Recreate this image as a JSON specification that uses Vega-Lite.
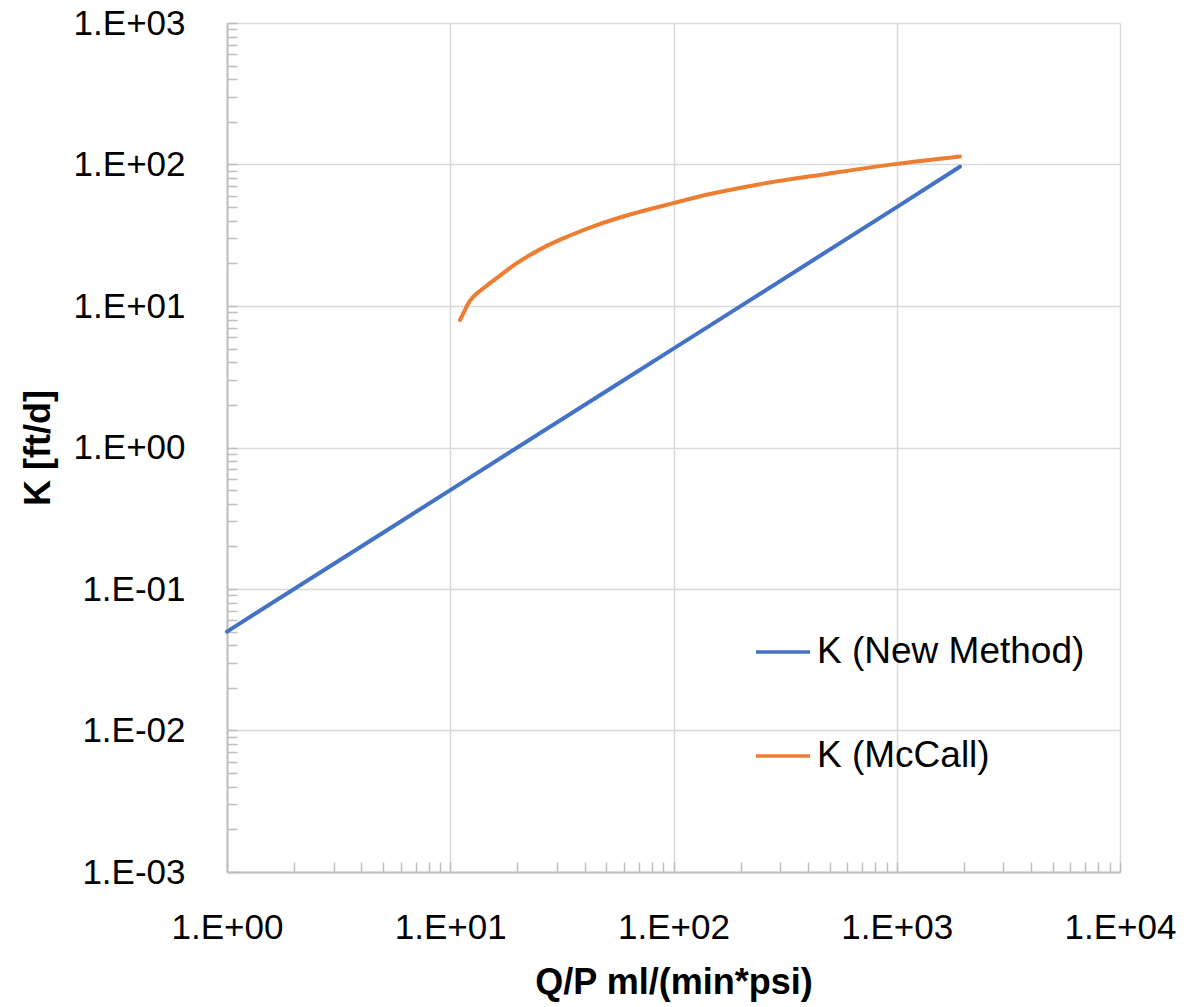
{
  "$schema": "https://vega.github.io/schema/vega-lite/v6.json",
  "autosize": {"type": "none"},
  "width": 893,
  "height": 849,
  "padding": {"left": 227, "top": 23, "right": 79, "bottom": 135},
  "background": "white",
  "config": {
    "view": {"stroke": null},
    "font": "Liberation Sans"
  },
  "data": {
    "values": [
      {"x": 1, "k": 0.05, "series": "K (New Method)"},
      {"x": 10, "k": 0.5, "series": "K (New Method)"},
      {"x": 100, "k": 5, "series": "K (New Method)"},
      {"x": 1000, "k": 50, "series": "K (New Method)"},
      {"x": 1920, "k": 96.5, "series": "K (New Method)"},
      {"x": 11.06, "k": 7.96, "series": "K (McCall)"},
      {"x": 11.44, "k": 8.88, "series": "K (McCall)"},
      {"x": 12.26, "k": 10.9, "series": "K (McCall)"},
      {"x": 13.6, "k": 12.8, "series": "K (McCall)"},
      {"x": 15.07, "k": 14.5, "series": "K (McCall)"},
      {"x": 16.7, "k": 16.4, "series": "K (McCall)"},
      {"x": 19.16, "k": 19.3, "series": "K (McCall)"},
      {"x": 22.76, "k": 22.9, "series": "K (McCall)"},
      {"x": 27.04, "k": 26.6, "series": "K (McCall)"},
      {"x": 34.4, "k": 31.5, "series": "K (McCall)"},
      {"x": 45.3, "k": 37.3, "series": "K (McCall)"},
      {"x": 63.9, "k": 44.3, "series": "K (McCall)"},
      {"x": 99.8, "k": 53.3, "series": "K (McCall)"},
      {"x": 145.7, "k": 61.8, "series": "K (McCall)"},
      {"x": 244, "k": 72.6, "series": "K (McCall)"},
      {"x": 485.7, "k": 85.8, "series": "K (McCall)"},
      {"x": 1000, "k": 101, "series": "K (McCall)"},
      {"x": 1920, "k": 114, "series": "K (McCall)"}
    ]
  },
  "mark": {"type": "line", "strokeWidth": 4, "strokeCap": "round", "interpolate": "monotone"},
  "encoding": {
    "x": {
      "field": "x",
      "type": "quantitative",
      "scale": {"type": "log", "domain": [1, 10000], "nice": false},
      "axis": {
        "title": "Q/P ml/(min*psi)",
        "titleFontSize": 36,
        "titleFontWeight": "bold",
        "titleColor": "black",
        "titlePadding": 20,
        "values": [1,2,3,4,5,6,7,8,9,10,20,30,40,50,60,70,80,90,100,200,300,400,500,600,700,800,900,1000,2000,3000,4000,5000,6000,7000,8000,9000,10000],
        "labelExpr": "abs(log(datum.value)/LN10 - round(log(datum.value)/LN10)) < 1e-6 ? '1.E' + (round(log(datum.value)/LN10) < 0 ? '-' : '+') + '0' + abs(round(log(datum.value)/LN10)) : ''",
        "labelFontSize": 35,
        "labelColor": "black",
        "labelPadding": 48,
        "labelOverlap": false,
        "labelFlush": false,
        "labelBound": false,
        "tickSize": -10,
        "tickColor": "#bfbfbf",
        "tickWidth": 1.5,
        "domainColor": "#bfbfbf",
        "domainWidth": 2,
        "grid": true,
        "gridColor": "#d9d9d9",
        "gridWidth": 1.5,
        "gridOpacity": {"condition": {"test": "abs(log(datum.value)/LN10 - round(log(datum.value)/LN10)) < 1e-6", "value": 1}, "value": 0}
      }
    },
    "y": {
      "field": "k",
      "type": "quantitative",
      "scale": {"type": "log", "domain": [0.001, 1000], "nice": false},
      "axis": {
        "title": "K [ft/d]",
        "titleFontSize": 36,
        "titleFontWeight": "bold",
        "titleColor": "black",
        "titlePadding": 16,
        "values": [0.001,0.002,0.003,0.004,0.005,0.006,0.007,0.008,0.009,0.01,0.02,0.03,0.04,0.05,0.06,0.07,0.08,0.09,0.1,0.2,0.3,0.4,0.5,0.6,0.7,0.8,0.9,1,2,3,4,5,6,7,8,9,10,20,30,40,50,60,70,80,90,100,200,300,400,500,600,700,800,900,1000],
        "labelExpr": "abs(log(datum.value)/LN10 - round(log(datum.value)/LN10)) < 1e-6 ? '1.E' + (round(log(datum.value)/LN10) < 0 ? '-' : '+') + '0' + abs(round(log(datum.value)/LN10)) : ''",
        "labelFontSize": 35,
        "labelColor": "black",
        "labelPadding": 52,
        "labelOverlap": false,
        "labelFlush": false,
        "labelBound": false,
        "tickSize": -10,
        "tickColor": "#bfbfbf",
        "tickWidth": 1.5,
        "domainColor": "#bfbfbf",
        "domainWidth": 2,
        "grid": true,
        "gridColor": "#d9d9d9",
        "gridWidth": 1.5,
        "gridOpacity": {"condition": {"test": "abs(log(datum.value)/LN10 - round(log(datum.value)/LN10)) < 1e-6", "value": 1}, "value": 0}
      }
    },
    "color": {
      "field": "series",
      "type": "nominal",
      "sort": ["K (New Method)", "K (McCall)"],
      "scale": {"domain": ["K (New Method)", "K (McCall)"], "range": ["#4472C4", "#ED7D31"]},
      "legend": {
        "title": null,
        "orient": "none",
        "legendX": 527,
        "legendY": 600,
        "symbolType": "stroke",
        "symbolSize": 2916,
        "symbolStrokeWidth": 3.5,
        "labelFontSize": 37,
        "labelColor": "black",
        "labelOffset": 5,
        "labelLimit": 500,
        "rowPadding": 57
      }
    }
  }
}
